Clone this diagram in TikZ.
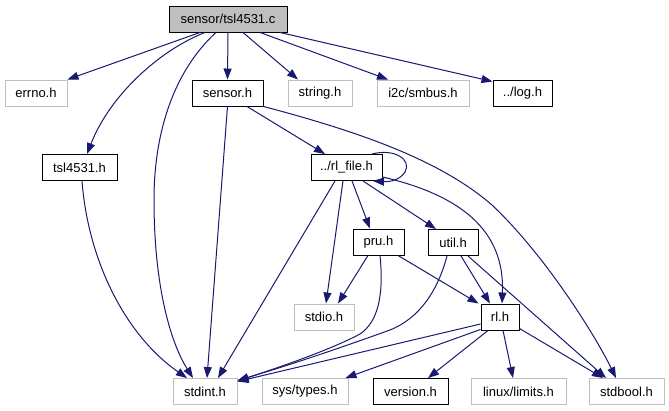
\documentclass[tikz,border=0pt]{standalone}
\usepackage{fontspec}
\setmainfont{Liberation Sans}
\usetikzlibrary{arrows.meta}
\definecolor{edgec}{HTML}{191970}
\definecolor{grayb}{HTML}{BFBFBF}
\begin{document}
\begin{tikzpicture}[x=1pt,y=-1pt,
  box/.style={draw=black, line width=0.95pt, minimum height=26pt, inner sep=0pt, font=\fontsize{13}{14}\selectfont, anchor=center},
  ext/.style={box, draw=grayb},
  mainbox/.style={box, fill=grayb},
  e/.style={draw=edgec, line width=1pt, -{Triangle[length=11pt,width=8pt]}}]
\useasboundingbox (0,0) rectangle (669,411);
% nodes
\node[mainbox, minimum width=118pt] (main) at (228,19) {sensor/tsl4531.c};
\node[ext, minimum width=62pt] (errno) at (36,93) {errno.h};
\node[box, minimum width=71pt] (sensor) at (227.5,93) {sensor.h};
\node[ext, minimum width=64pt] (string) at (320,93) {string.h};
\node[ext, minimum width=92pt] (smbus) at (423,93) {i2c/smbus.h};
\node[box, minimum width=59pt] (log) at (522.5,93) {../log.h};
\node[box, minimum width=75pt] (tslh) at (79.5,167.5) {tsl4531.h};
\node[box, minimum width=71pt] (rlfile) at (346.5,167.5) {../rl\_file.h};
\node[box, minimum width=51pt] (pru) at (378.5,242) {pru.h};
\node[box, minimum width=50pt] (util) at (453,242.5) {util.h};
\node[ext, minimum width=60pt] (stdio) at (324,317) {stdio.h};
\node[box, minimum width=38pt] (rl) at (500,317) {rl.h};
\node[ext, minimum width=64pt] (stdint) at (205,391.5) {stdint.h};
\node[ext, minimum width=86pt] (systypes) at (305,391.5) {sys/types.h};
\node[box, minimum width=75pt] (version) at (410.5,391.5) {version.h};
\node[ext, minimum width=95pt] (limits) at (518.5,391.5) {linux/limits.h};
\node[ext, minimum width=75pt] (stdbool) at (626.5,391.5) {stdbool.h};
% edges from main
\draw[e] ([xshift=-28pt]main.south) -- (errno.north east);
\draw[e] ([xshift=-23pt]main.south) .. controls (160,50) and (110,95) .. ([xshift=7.5pt]tslh.north);
\draw[e] ([xshift=-12pt]main.south) .. controls (175,70) and (154,130) .. (154,200) .. controls (154,290) and (172,345) .. ([xshift=-12pt]stdint.north);
\draw[e] (main.south) -- (sensor.north);
\draw[e] ([xshift=15pt]main.south) -- ([xshift=-22pt]string.north);
\draw[e] ([xshift=32pt]main.south) -- ([xshift=-35pt]smbus.north);
\draw[e] ([xshift=52pt]main.south) -- ([yshift=-2pt]log.north west);
% sensor.h
\draw[e] (sensor.south) -- ([xshift=2pt]stdint.north);
\draw[e] ([xshift=19.5pt]sensor.south) -- ([xshift=-21.5pt]rlfile.north);
\draw[e] (sensor.south east) .. controls (360,132) and (440,160) .. (492,205) .. controls (545,255) and (595,335) .. ([xshift=-10.5pt]stdbool.north);
% rl_file.h
\draw[e] ([xshift=25.5pt]rlfile.north) .. controls (395,148) and (412,160) .. (405,172) .. controls (400,180) and (390,182) .. ([xshift=26.5pt]rlfile.south);
\draw[e] ([xshift=-11.5pt]rlfile.south) -- ([xshift=13pt]stdint.north);
\draw[e] ([xshift=-3.5pt]rlfile.south) -- ([xshift=2pt]stdio.north);
\draw[e] ([xshift=5.5pt]rlfile.south) -- ([xshift=-8.5pt]pru.north);
\draw[e] ([xshift=16.5pt]rlfile.south) -- ([xshift=-17pt]util.north);
\draw[e] ([yshift=4pt]rlfile.south east) .. controls (460,195) and (505,230) .. ([xshift=2pt]rl.north);
% pru.h
\draw[e] ([xshift=-10.5pt]pru.south) -- ([xshift=14pt]stdio.north);
\draw[e] ([xshift=1.5pt]pru.south) .. controls (384,295) and (378,322) .. (360,334) .. controls (330,350) and (280,367) .. ([yshift=10.5pt]stdint.east);
\draw[e] ([xshift=19.5pt]pru.south) -- ([xshift=-2pt]rl.north west);
% util.h
\draw[e] ([xshift=-6pt]util.south) .. controls (438,290) and (420,318) .. (390,330) .. controls (340,348) and (290,365) .. ([yshift=11pt]stdint.east);
\draw[e] ([xshift=8pt]util.south) -- ([xshift=-10pt]rl.north);
\draw[e] ([xshift=15pt]util.south) -- ([xshift=-20.5pt]stdbool.north);
% rl.h
\draw[e] ([yshift=-7pt]rl.west) -- ([yshift=10pt]stdint.east);
\draw[e] ([yshift=1pt]rl.south west) -- ([xshift=-3pt]systypes.north east);
\draw[e] ([xshift=-12pt]rl.south) -- ([xshift=17.5pt]version.north);
\draw[e] ([xshift=3pt]rl.south) -- ([xshift=-5.5pt]limits.north);
\draw[e] ([yshift=2pt]rl.south east) -- ([xshift=-23.5pt]stdbool.north);
% tsl4531.h
\draw[e] ([xshift=2.5pt]tslh.south) .. controls (88,260) and (125,335) .. ([xshift=-18pt]stdint.north);
\end{tikzpicture}
\end{document}
